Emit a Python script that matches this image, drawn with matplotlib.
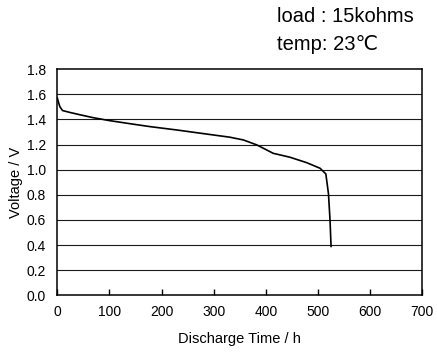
import matplotlib
matplotlib.use('Agg')
import matplotlib.pyplot as plt

plt.rcParams['font.family'] = ['Liberation Sans', 'DejaVu Sans']

# discharge curve
hours = [0, 2, 5, 10, 24, 45, 69, 100, 140, 178, 230, 274, 331, 357, 383,
         414, 446, 478, 504, 515, 520, 523, 525]
volts = [1.57, 1.54, 1.50, 1.47, 1.455, 1.435, 1.413, 1.39, 1.365, 1.342,
         1.315, 1.29, 1.258, 1.236, 1.196, 1.13, 1.099, 1.056, 1.011, 0.966,
         0.81, 0.60, 0.39]

x_ticks = [0, 100, 200, 300, 400, 500, 600, 700]
y_ticks = [0.0, 0.2, 0.4, 0.6, 0.8, 1.0, 1.2, 1.4, 1.6, 1.8]

fig = plt.figure(figsize=(4.37, 3.57), dpi=100)
ax = fig.add_axes([0.1311, 0.1723, 0.8353, 0.6344])

for yv in y_ticks[1:-1]:
    ax.axhline(yv, color='#1a1a1a', lw=0.8, zorder=1)

ax.plot(hours, volts, color='black', lw=1.2, zorder=3)

ax.set_xlim(0, 700)
ax.set_ylim(0, 1.8)
ax.set_xticks(x_ticks)
ax.set_yticks(y_ticks)
ax.set_yticklabels(['%.1f' % v for v in y_ticks])
ax.tick_params(axis='x', direction='in', length=4, width=1, pad=7, labelsize=10)
ax.tick_params(axis='y', direction='in', length=0, pad=8, labelsize=10)
for s in ax.spines.values():
    s.set_linewidth(1.1)

ax.set_xlabel('Discharge Time / h', fontsize=10.5, labelpad=9)
ax.set_ylabel('Voltage / V', fontsize=10.5, labelpad=3)

fig.text(0.634, 0.953, 'load : 15kohms', fontsize=14.5, va='center', ha='left')
fig.text(0.634, 0.876, 'temp: 23\u2103', fontsize=14.5, va='center', ha='left',
         family=['Liberation Sans', 'DejaVu Sans'])

fig.savefig('out.png', dpi=100)
